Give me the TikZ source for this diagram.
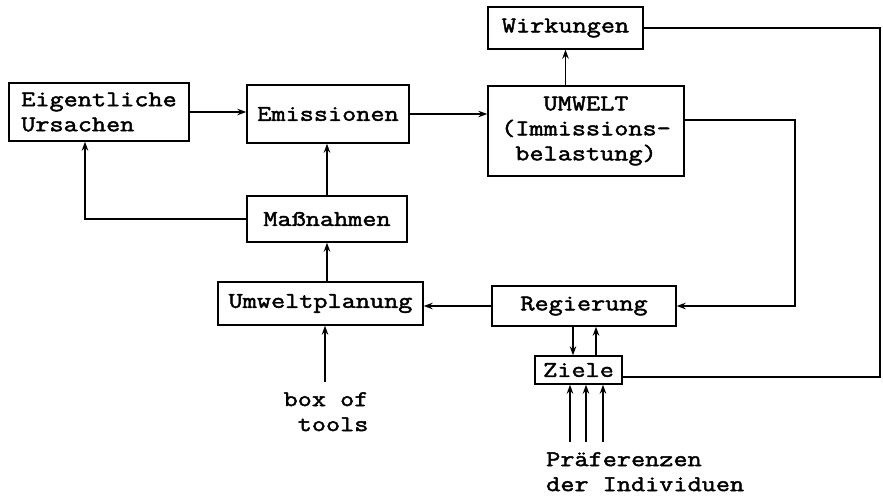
\documentclass[tikz,border=0pt]{standalone}
\usepackage{fontspec}
\setmainfont[FakeStretch=1.22,FakeBold=2]{Latin Modern Mono}
\usetikzlibrary{arrows.meta,calc}
\begin{document}
\begin{tikzpicture}[x=1pt,y=-1pt,
  box/.style={draw,line width=1.4pt,inner sep=0pt,font=\fontsize{22.5}{25}\selectfont},
  lbl/.style={inner sep=0pt,font=\fontsize{22.5}{25}\selectfont},
  conn/.style={line width=1.2pt},
  arr/.style={conn,-{Stealth[length=9pt,width=6.5pt]}}]
\useasboundingbox[fill=white] (0,0) rectangle (883,498);
\node[box,minimum width=155pt,minimum height=42pt] (wirk) at (565.5,28) {Wirkungen};
\node[box,minimum width=196pt,minimum height=90pt,align=center] (umw) at (586,131) {UMWELT\\(Immissions-\\belastung)};
\node[box,minimum width=180pt,minimum height=58pt,align=left] (eig) at (99,112) {Eigentliche\\Ursachen};
\node[box,minimum width=162pt,minimum height=58pt] (emi) at (328,114) {Emissionen};
\node[box,minimum width=160pt,minimum height=46pt] (mass) at (327,219) {Maßnahmen};
\node[box,minimum width=205pt,minimum height=43pt] (uplan) at (320.5,303.5) {Umweltplanung};
\node[box,minimum width=184pt,minimum height=40pt] (reg) at (584,306) {Regierung};
\node[box,minimum width=87pt,minimum height=28pt] (ziele) at (578.5,370) {Ziele};
\node[lbl,align=left,anchor=north] (tools) at (326,392) {box of\\\phantom{b}tools};
\node[lbl,align=left,anchor=north west] (pref) at (546,452) {Präferenzen\\der Individuen};
\coordinate (c1) at (795,120);
\coordinate (c2) at (880,31);
\coordinate (c3) at (85,219);
\coordinate (bt) at (325,382);
\coordinate (p1) at (570,442);
\coordinate (p2) at (586,442);
\coordinate (p3) at (603,442);
\draw[arr] (eig.east) -- (eig.east -| emi.west);
\draw[arr] (emi.east) -- (emi.east -| umw.west);
\draw[arr] (umw.north -| wirk.south) -- (wirk.south);
\draw[arr] (umw.east |- c1) -- (c1) -- (c1 |- reg.east) -- (reg.east);
\draw[conn] (wirk.east) -- (wirk.east -| c2) -- (c2 |- 0,377) -- ($(ziele.east)+(0,7)$);
\draw[arr] (mass.north) -- (mass.north |- emi.south);
\draw[arr] (mass.west) -- (c3) -- (c3 |- eig.south);
\draw[arr] (uplan.north -| mass.south) -- (mass.south);
\draw[arr] (bt) -- (bt |- uplan.south);
\draw[arr] (reg.west) -- (reg.west -| uplan.east);
\draw[arr] ($(reg.south)+(-11,0)$) -- ($(ziele.north)+(-5.5,0)$);
\draw[arr] ($(ziele.north)+(17.5,0)$) -- ($(reg.south)+(12,0)$);
\draw[arr] (p1) -- (p1 |- ziele.south);
\draw[arr] (p2) -- (p2 |- ziele.south);
\draw[arr] (p3) -- (p3 |- ziele.south);
\end{tikzpicture}
\end{document}
